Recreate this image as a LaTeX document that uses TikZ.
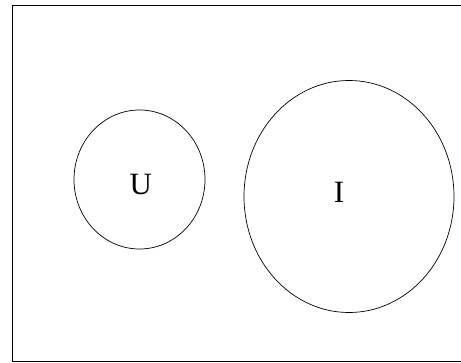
\documentclass[tikz,border=0pt]{standalone}
\usepackage{fontspec}
\setmainfont{Liberation Serif}
\usetikzlibrary{shapes.geometric}
\tikzset{
  setcirc/.style={draw, ellipse, line width=0.7pt, inner sep=0pt},
  setlabel/.style={inner sep=0pt, font=\fontsize{31}{31}\selectfont},
  frame/.style={draw, line width=1pt},
}

\begin{document}
\begin{tikzpicture}[x=1pt, y=-1pt]
  \clip (0,0) rectangle (461,363);
  % universe frame, runs off the right edge
  \draw[frame] (12.5,5.5) rectangle (480,361.5);
  % the two sets
  \node[setcirc, minimum width=131pt, minimum height=139pt] (U) at (139.5,179.5) {};
  \node[setcirc, minimum width=210pt, minimum height=232pt] (I) at (349,196.5) {};
  \node[setlabel] (Ulabel) at (140.7,184.7) {U};
  \node[setlabel] (Ilabel) at (339,192) {I};
\end{tikzpicture}
\end{document}
